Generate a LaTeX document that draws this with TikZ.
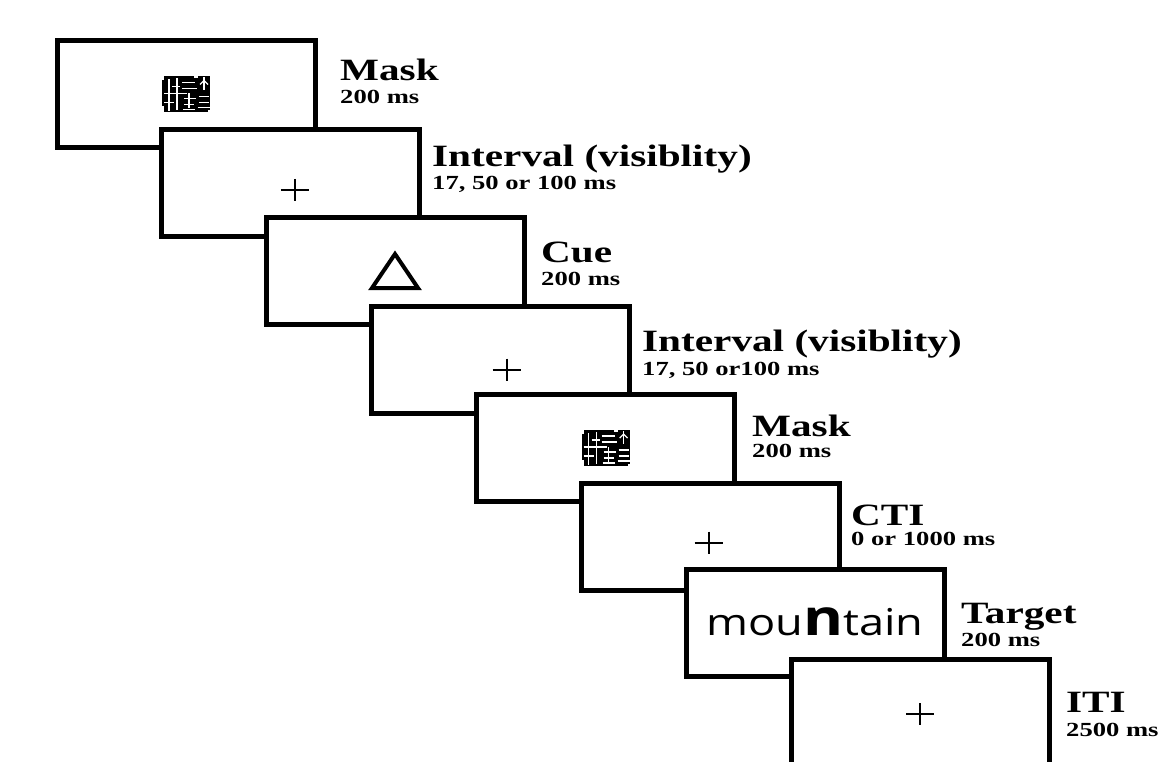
\documentclass[tikz,border=0pt]{standalone}
\usepackage{fontspec}
\usepackage{graphicx}
\setmainfont{Liberation Serif}
\newfontfamily\osans{Open Sans}
\newcommand\stretchtxt[1]{\scalebox{1.33}[1]{#1}}
\newcommand\maskpattern{%
  \fill[black] (-24,-18) rectangle (24,18);
  \begin{scope}[white, line width=1.3pt]
    \draw (-17,-15) -- (-17,17);
    \draw (-9,-16) -- (-9,16);
    \draw (-4,-12) -- (9,-12);
    \draw (-4,-6) -- (11,-6);
    \draw (-22,-1) -- (1,-1);
    \draw (-2,4) -- (10,4);
    \draw (-2,10) -- (8,10);
    \draw (-3,15) -- (9,15);
    \draw (18,-17) -- (18,-4);
    \draw (14,-10) -- (18,-14) -- (22,-10);
    \draw (13,2) -- (23,2);
    \draw (13,8) -- (23,8);
    \draw (12,13) -- (24,13);
    \draw (-22,8) -- (-12,8);
    \draw (-14,-8) -- (-6,-8);
    \draw (3,-1) -- (3,14);
  \end{scope}
  \fill[white] (-24,-18) rectangle (-22,-14);
  \fill[white] (22,16) rectangle (24,18);
  \fill[white] (-24,12) rectangle (-22,18);
  \fill[white] (8,-18) rectangle (12,-16);
}
\tikzset{
  screen/.style={draw=black, fill=white, line width=5pt, minimum width=258pt,
    minimum height=107pt, anchor=north west, inner sep=0pt, outer sep=0pt},
  ttl/.style={anchor=base west, inner sep=0pt, font=\bfseries\fontsize{31}{31}\selectfont},
  subttl/.style={anchor=base west, inner sep=0pt, font=\bfseries\fontsize{20}{20}\selectfont},
  crossline/.style={line width=2pt},
  trianglestroke/.style={line width=4pt, line join=miter},
}
\begin{document}
\begin{tikzpicture}[x=1pt,y=-1pt]
\useasboundingbox (0,0) rectangle (1165,762);
\clip (0,0) rectangle (1165,762);
\fill[white] (0,0) rectangle (1165,762);

% screen 1: mask
\node[screen] (s1) at (57,41) {};
\begin{scope}[shift={(s1.center)}]\maskpattern\end{scope}
\node[ttl] (l1) at (340,81) {\stretchtxt{Mask}};
\node[subttl] (d1) at (340,104) {\stretchtxt{200 ms}};

% screen 2: interval
\node[screen] (s2) at (161.9,129.4) {};
\begin{scope}[shift={(s2.center)}]
  \draw[crossline] (-10,7) -- (18,7);
  \draw[crossline] (4,-4) -- (4,18);
\end{scope}
\node[ttl] (l2) at (432,167) {\stretchtxt{Interval (visiblity)}};
\node[subttl] (d2) at (432,190) {\stretchtxt{17, 50 or 100 ms}};

% screen 3: cue
\node[screen] (s3) at (266.8,217.8) {};
\draw[trianglestroke] (372,288) -- (395,254) -- (418,288) -- cycle;
\node[ttl] (l3) at (541,262) {\stretchtxt{Cue}};
\node[subttl] (d3) at (541,286) {\stretchtxt{200 ms}};

% screen 4: interval
\node[screen] (s4) at (371.7,306.2) {};
\begin{scope}[shift={(s4.center)}]
  \draw[crossline] (-8,10) -- (20,10);
  \draw[crossline] (6,-1) -- (6,21);
\end{scope}
\node[ttl] (l4) at (642,351) {\stretchtxt{Interval (visiblity)}};
\node[subttl] (d4) at (642,375) {\stretchtxt{17, 50 or100 ms}};

% screen 5: mask
\node[screen] (s5) at (476.6,394.6) {};
\begin{scope}[shift={(s5.center)}]\maskpattern\end{scope}
\node[ttl] (l5) at (752,436) {\stretchtxt{Mask}};
\node[subttl] (d5) at (752,457) {\stretchtxt{200 ms}};

% screen 6: CTI
\node[screen] (s6) at (581.5,483) {};
\begin{scope}[shift={(s6.center)}]
  \draw[crossline] (-16,6) -- (12,6);
  \draw[crossline] (-2,-5) -- (-2,17);
\end{scope}
\node[ttl] (l6) at (851,525) {\stretchtxt{CTI}};
\node[subttl] (d6) at (851,545) {\stretchtxt{0 or 1000 ms}};

% screen 7: target
\node[screen] (s7) at (686.4,569.5) {};
\node[anchor=base, inner sep=0pt] (w7) at (815,635)
  {\osans\scalebox{1.22}[1]{\fontsize{37}{37}\selectfont mou{\bfseries\fontsize{50}{50}\selectfont n}tain}};
\node[ttl] (l7) at (961,623) {\stretchtxt{Target}};
\node[subttl] (d7) at (961,646) {\stretchtxt{200 ms}};

% screen 8: ITI
\node[screen] (s8) at (791.3,659.5) {};
\begin{scope}[shift={(s8.center)}]
  \draw[crossline] (-14,1) -- (14,1);
  \draw[crossline] (0,-10) -- (0,12);
\end{scope}
\node[ttl] (l8) at (1066,712.7) {\stretchtxt{ITI}};
\node[subttl] (d8) at (1066,736) {\stretchtxt{2500 ms}};
\end{tikzpicture}
\end{document}
